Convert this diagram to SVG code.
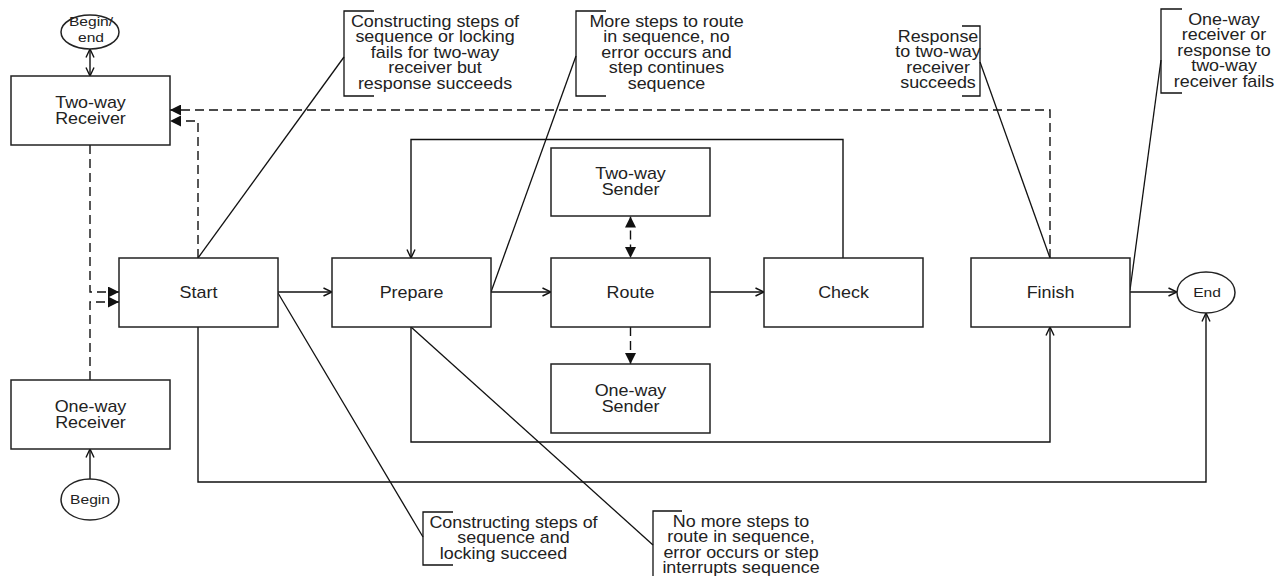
<svg xmlns="http://www.w3.org/2000/svg" width="1275" height="576" viewBox="0 0 1275 576">
  <defs>
    <style>
      .box { fill: #ffffff; stroke: #222222; stroke-width: 1.5; }
      .term { fill: #ffffff; stroke: #222222; stroke-width: 1.5; }
      .lbl { font-family: "Liberation Sans", Arial, sans-serif; font-size: 16px; fill: #222222; text-anchor: middle; }
      .small { font-family: "Liberation Sans", Arial, sans-serif; font-size: 13px; fill: #222222; text-anchor: middle; }
      .flow { fill: none; stroke: #111111; stroke-width: 1.4; }
      .dash { fill: none; stroke: #111111; stroke-width: 1.4; stroke-dasharray: 9 5; }
      .note { fill: none; stroke: #111111; stroke-width: 1.3; }
    </style>
    <!-- open chevron head for solid flow lines -->
    <marker id="open" viewBox="0 0 10 10" refX="9.5" refY="5" markerWidth="10" markerHeight="10" markerUnits="userSpaceOnUse" orient="auto-start-reverse">
      <path d="M1,1 L9.5,5 L1,9" fill="none" stroke="#111111" stroke-width="1.4"/>
    </marker>
    <!-- filled triangle head for dashed message lines -->
    <marker id="solid" viewBox="0 0 10 10" refX="10" refY="5" markerWidth="11" markerHeight="11" markerUnits="userSpaceOnUse" orient="auto-start-reverse">
      <path d="M0,0 L10,5 L0,10 Z" fill="#111111"/>
    </marker>
  </defs>

  <rect width="1275" height="576" fill="#ffffff"/>

  <!-- connectors -->
  <g id="connectors">
    <!-- solid flow -->
    <line class="flow" x1="90" y1="49" x2="90" y2="76" marker-start="url(#open)" marker-end="url(#open)"/>
    <line class="flow" x1="90" y1="479" x2="90" y2="449" marker-end="url(#open)"/>
    <line class="flow" x1="278" y1="292" x2="332" y2="292" marker-end="url(#open)"/>
    <line class="flow" x1="491" y1="292" x2="551" y2="292" marker-end="url(#open)"/>
    <line class="flow" x1="710" y1="292" x2="764" y2="292" marker-end="url(#open)"/>
    <line class="flow" x1="1130" y1="292" x2="1177" y2="292" marker-end="url(#open)"/>
    <path class="flow" d="M843,258 V139.5 H411 V258" marker-end="url(#open)"/>
    <path class="flow" d="M411,327 V442 H1050 V327" marker-end="url(#open)"/>
    <path class="flow" d="M198,327 V482 H1206 V313" marker-end="url(#open)"/>

    <!-- dashed messages -->
    <path class="dash" d="M1050,258 V110 H170" marker-end="url(#solid)"/>
    <path class="dash" d="M198,258 V121 H170" marker-end="url(#solid)"/>
    <path class="dash" d="M90,145 V292 H119" marker-end="url(#solid)"/>
    <path class="dash" d="M90,380 V302 H119" marker-end="url(#solid)"/>
    <line class="dash" x1="630.5" y1="216.5" x2="630.5" y2="258" marker-start="url(#solid)" marker-end="url(#solid)"/>
    <line class="dash" x1="630.5" y1="327" x2="630.5" y2="364" marker-end="url(#solid)"/>

    <!-- annotation leaders -->
    <line class="note" x1="344" y1="57" x2="198" y2="258"/>
    <line class="note" x1="576" y1="56" x2="491" y2="292"/>
    <line class="note" x1="980" y1="62" x2="1050" y2="258"/>
    <line class="note" x1="1161" y1="60" x2="1130" y2="290"/>
    <line class="note" x1="423" y1="537" x2="278" y2="293"/>
    <line class="note" x1="653" y1="545" x2="411" y2="327"/>
  </g>

  <!-- terminals -->
  <g id="begin-end">
    <ellipse class="term" cx="90" cy="32" rx="29" ry="17"/>
    <text class="small" transform="matrix(1.2 0 0 1 91 0)"><tspan x="0" y="26.5">Begin/</tspan><tspan x="0" y="42">end</tspan></text>
  </g>
  <g id="begin">
    <ellipse class="term" cx="90" cy="499.5" rx="29" ry="20.5"/>
    <text class="small" transform="matrix(1.2 0 0 1 90 0)" x="0" y="504">Begin</text>
  </g>
  <g id="end">
    <ellipse class="term" cx="1206" cy="292.5" rx="29" ry="20.5"/>
    <text class="small" transform="matrix(1.2 0 0 1 1207 0)" x="0" y="297">End</text>
  </g>

  <!-- process boxes -->
  <g id="two-way-receiver">
    <rect class="box" x="11" y="76" width="159" height="69"/>
    <text class="lbl" transform="matrix(1.12 0 0 1 90.5 0)"><tspan x="0" y="108">Two-way</tspan><tspan x="0" y="124">Receiver</tspan></text>
  </g>
  <g id="one-way-receiver">
    <rect class="box" x="11" y="380" width="159" height="69"/>
    <text class="lbl" transform="matrix(1.12 0 0 1 90.5 0)"><tspan x="0" y="412">One-way</tspan><tspan x="0" y="428">Receiver</tspan></text>
  </g>
  <g id="start">
    <rect class="box" x="119" y="258" width="159" height="69"/>
    <text class="lbl" transform="matrix(1.12 0 0 1 198.5 0)" x="0" y="298">Start</text>
  </g>
  <g id="prepare">
    <rect class="box" x="332" y="258" width="159" height="69"/>
    <text class="lbl" transform="matrix(1.12 0 0 1 411.5 0)" x="0" y="298">Prepare</text>
  </g>
  <g id="route">
    <rect class="box" x="551" y="258" width="159" height="69"/>
    <text class="lbl" transform="matrix(1.12 0 0 1 630.5 0)" x="0" y="298">Route</text>
  </g>
  <g id="check">
    <rect class="box" x="764" y="258" width="159" height="69"/>
    <text class="lbl" transform="matrix(1.12 0 0 1 843.5 0)" x="0" y="298">Check</text>
  </g>
  <g id="finish">
    <rect class="box" x="971" y="258" width="159" height="69"/>
    <text class="lbl" transform="matrix(1.12 0 0 1 1050.5 0)" x="0" y="298">Finish</text>
  </g>
  <g id="two-way-sender">
    <rect class="box" x="551" y="148" width="159" height="68"/>
    <text class="lbl" transform="matrix(1.12 0 0 1 630.5 0)"><tspan x="0" y="179.5">Two-way</tspan><tspan x="0" y="195.5">Sender</tspan></text>
  </g>
  <g id="one-way-sender">
    <rect class="box" x="551" y="364" width="159" height="69"/>
    <text class="lbl" transform="matrix(1.12 0 0 1 630.5 0)"><tspan x="0" y="396">One-way</tspan><tspan x="0" y="412">Sender</tspan></text>
  </g>

  <!-- annotations -->
  <g id="note-start-fail">
    <path class="note" d="M374,11 H344 V96 H374"/>
    <text class="lbl" transform="matrix(1.12 0 0 1 435 0)"><tspan x="0" y="27">Constructing steps of</tspan><tspan x="0" y="42.5">sequence or locking</tspan><tspan x="0" y="58">fails for two-way</tspan><tspan x="0" y="73.5">receiver but</tspan><tspan x="0" y="89">response succeeds</tspan></text>
  </g>
  <g id="note-prepare-more">
    <path class="note" d="M606,11 H576 V96 H606"/>
    <text class="lbl" transform="matrix(1.12 0 0 1 666.5 0)"><tspan x="0" y="27">More steps to route</tspan><tspan x="0" y="42.5">in sequence, no</tspan><tspan x="0" y="58">error occurs and</tspan><tspan x="0" y="73.5">step continues</tspan><tspan x="0" y="89">sequence</tspan></text>
  </g>
  <g id="note-finish-ok">
    <path class="note" d="M962,26 H980 V96 H962"/>
    <text class="lbl" transform="matrix(1.12 0 0 1 938 0)"><tspan x="0" y="42">Response</tspan><tspan x="0" y="57.5">to two-way</tspan><tspan x="0" y="73">receiver</tspan><tspan x="0" y="88.5">succeeds</tspan></text>
  </g>
  <g id="note-finish-fail">
    <path class="note" d="M1182,9 H1161 V93 H1182"/>
    <text class="lbl" transform="matrix(1.12 0 0 1 1224 0)"><tspan x="0" y="25">One-way</tspan><tspan x="0" y="40.5">receiver or</tspan><tspan x="0" y="56">response to</tspan><tspan x="0" y="71.5">two-way</tspan><tspan x="0" y="87">receiver fails</tspan></text>
  </g>
  <g id="note-start-ok">
    <path class="note" d="M453,512 H423 V565 H453"/>
    <text class="lbl" transform="matrix(1.12 0 0 1 513.5 0)"><tspan x="0" y="528">Constructing steps of</tspan><tspan x="0" y="543.5">sequence and</tspan><tspan x="-9" y="559">locking succeed</tspan></text>
  </g>
  <g id="note-prepare-done">
    <path class="note" d="M682,511 H653 V582"/>
    <text class="lbl" transform="matrix(1.12 0 0 1 741 0)"><tspan x="0" y="527">No more steps to</tspan><tspan x="0" y="542.5">route in sequence,</tspan><tspan x="0" y="558">error occurs or step</tspan><tspan x="0" y="573.5">interrupts sequence</tspan></text>
  </g>
</svg>
